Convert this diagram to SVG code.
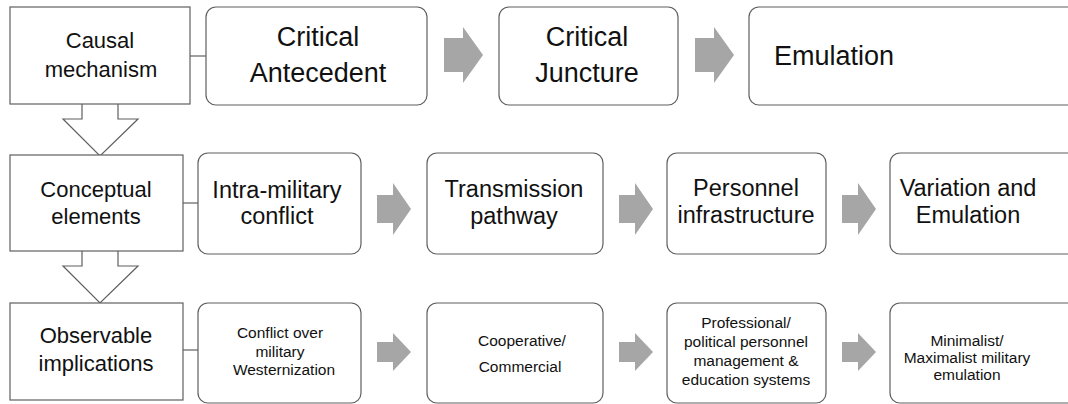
<svg xmlns="http://www.w3.org/2000/svg" width="1068" height="404" viewBox="0 0 1068 404">
  <style>
    .bg { fill: #ffffff; }
    .label { fill: #ffffff; stroke: #5f5f5f; stroke-width: 1.2; }
    .stage { fill: #ffffff; stroke: #5f5f5f; stroke-width: 1.2; }
    .link { stroke: #5f5f5f; stroke-width: 1.2; fill: none; }
    .flow { fill: #a6a6a6; stroke: none; }
    .down { fill: #ffffff; stroke: #5f5f5f; stroke-width: 1.2; stroke-linejoin: miter; }
    text { font-family: "Liberation Sans", Arial, sans-serif; fill: #111111; text-anchor: middle; }
    .big { font-size: 27px; }
    .side { font-size: 22px; }
    .mid { font-size: 23.5px; }
    .small { font-size: 15.5px; }
  </style>
  <defs>
    <!-- block arrow pointing right, origin at tail centre -->
    <path id="flowArrow" d="M0,-14 H16 V-26 L34,0 L16,26 V14 H0 Z"/>
    <path id="flowArrowBig" d="M0,-17 H19 V-28 L39,0 L19,28 V17 H0 Z"/>
    <path id="flowArrowSm" d="M0,-10 H16 V-19 L34,0 L16,19 V10 H0 Z"/>
  </defs>
  <rect class="bg" x="0" y="0" width="1068" height="404"/>

  <!-- downward hollow arrows between the level labels -->
  <g id="connectors">
    <path class="down" d="M82,104 V119 H63 L100,156 L138,119 H118 V104"/>
    <path class="down" d="M82,251 V266 H63 L100,303 L138,266 H118 V251"/>
    <line class="link" x1="190" y1="56" x2="206" y2="56"/>
    <line class="link" x1="183" y1="203" x2="198" y2="203"/>
    <line class="link" x1="183" y1="350" x2="198" y2="350"/>
    <use href="#flowArrowBig" class="flow" x="444" y="55"/>
    <use href="#flowArrowBig" class="flow" x="695" y="55"/>
    <use href="#flowArrow" class="flow" x="377" y="209"/>
    <use href="#flowArrow" class="flow" x="619" y="209"/>
    <use href="#flowArrow" class="flow" x="842" y="209"/>
    <use href="#flowArrowSm" class="flow" x="377" y="352"/>
    <use href="#flowArrowSm" class="flow" x="619" y="352"/>
    <use href="#flowArrowSm" class="flow" x="842" y="352"/>
  </g>

  <!-- level labels -->
  <g id="causal-mechanism">
    <rect class="label" x="10" y="7" width="180" height="97"/>
    <text class="side" x="100" y="48">Causal</text>
    <text class="side" x="101" y="77">mechanism</text>
  </g>
  <g id="conceptual-elements">
    <rect class="label" x="10" y="155" width="173" height="96"/>
    <text class="side" x="96" y="197">Conceptual</text>
    <text class="side" x="96" y="224">elements</text>
  </g>
  <g id="observable-implications">
    <rect class="label" x="10" y="303" width="173" height="97"/>
    <text class="side" x="96" y="343">Observable</text>
    <text class="side" x="96" y="371">implications</text>
  </g>

  <!-- top row: causal mechanism stages -->
  <g id="critical-antecedent">
    <rect class="stage" x="206" y="7" width="221" height="98" rx="10"/>
    <text class="big" x="318" y="46">Critical</text>
    <text class="big" x="318" y="82">Antecedent</text>
  </g>
  <g id="critical-juncture">
    <rect class="stage" x="499" y="7" width="179" height="98" rx="10"/>
    <text class="big" x="587" y="46">Critical</text>
    <text class="big" x="587" y="82">Juncture</text>
  </g>
  <g id="emulation">
    <rect class="stage" x="749" y="7" width="340" height="98" rx="10"/>
    <text class="big" x="834" y="65">Emulation</text>
  </g>

  <!-- middle row: conceptual elements -->
  <g id="intra-military-conflict">
    <rect class="stage" x="198" y="153" width="163" height="101" rx="10"/>
    <text class="mid" x="277" y="198">Intra-military</text>
    <text class="mid" x="277" y="224">conflict</text>
  </g>
  <g id="transmission-pathway">
    <rect class="stage" x="427" y="153" width="176" height="101" rx="10"/>
    <text class="mid" x="514" y="197">Transmission</text>
    <text class="mid" x="514" y="224">pathway</text>
  </g>
  <g id="personnel-infrastructure">
    <rect class="stage" x="667" y="153" width="159" height="101" rx="10"/>
    <text class="mid" x="746" y="196">Personnel</text>
    <text class="mid" x="746" y="223">infrastructure</text>
  </g>
  <g id="variation-emulation">
    <rect class="stage" x="890" y="153" width="200" height="101" rx="10"/>
    <text class="mid" x="968" y="196">Variation and</text>
    <text class="mid" x="968" y="223">Emulation</text>
  </g>

  <!-- bottom row: observable implications -->
  <g id="conflict-westernization">
    <rect class="stage" x="198" y="303" width="163" height="100" rx="10"/>
    <text class="small" x="280" y="338">Conflict over</text>
    <text class="small" x="280" y="357">military</text>
    <text class="small" x="284" y="375">Westernization</text>
  </g>
  <g id="cooperative-commercial">
    <rect class="stage" x="427" y="303" width="176" height="100" rx="10"/>
    <text class="small" x="522" y="346">Cooperative/</text>
    <text class="small" x="520" y="372">Commercial</text>
  </g>
  <g id="personnel-systems">
    <rect class="stage" x="667" y="303" width="159" height="100" rx="10"/>
    <text class="small" x="746" y="328">Professional/</text>
    <text class="small" x="746" y="347">political personnel</text>
    <text class="small" x="746" y="366">management &amp;</text>
    <text class="small" x="746" y="385">education systems</text>
  </g>
  <g id="military-emulation">
    <rect class="stage" x="890" y="303" width="200" height="100" rx="10"/>
    <text class="small" x="967" y="346">Minimalist/</text>
    <text class="small" x="967" y="363">Maximalist military</text>
    <text class="small" x="967" y="380">emulation</text>
  </g>
</svg>
